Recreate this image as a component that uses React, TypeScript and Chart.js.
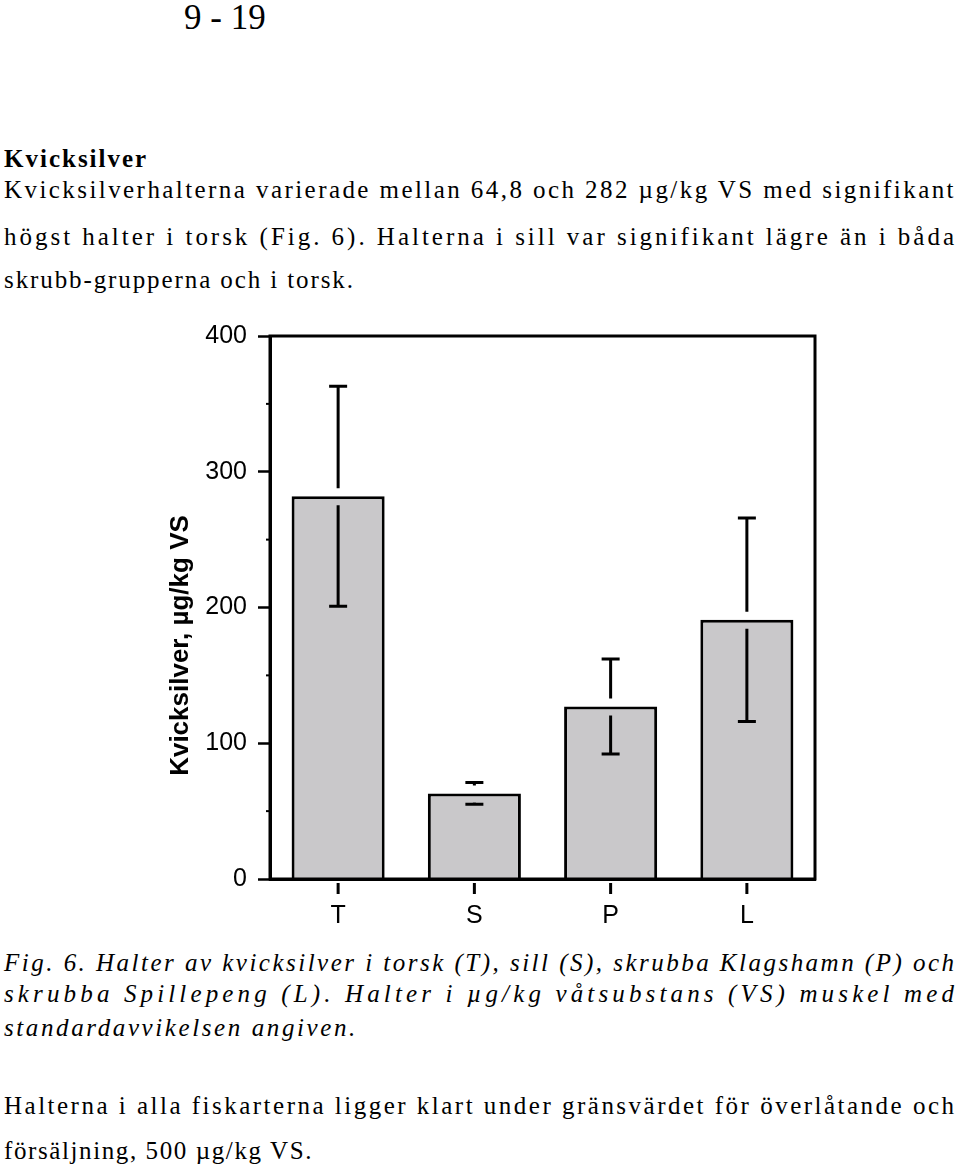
import React, { useEffect, useRef } from "react";
import { Chart, registerables } from "chart.js";

Chart.register(...registerables);

// ---- data ----
const categories = ["T", "S", "P", "L"];
const meanValues = [282, 63, 127, 191];
const sdValues = [81, 8, 35, 75];
const yTickValues = [0, 100, 200, 300, 400];
const yMinorTickValues = [50, 150, 250, 350];
const yAxisTitle = "Kvicksilver, µg/kg VS";

const pageNumber = "9 - 19";
const heading = "Kvicksilver";
const para1Lines = [
  "Kvicksilverhalterna varierade mellan 64,8 och 282 µg/kg VS med signifikant",
  "högst halter i torsk (Fig. 6). Halterna i sill var signifikant lägre än i båda",
  "skrubb-grupperna och i torsk.",
];
const captionLines = [
  "Fig. 6. Halter av kvicksilver i torsk (T), sill (S), skrubba Klagshamn (P) och",
  "skrubba Spillepeng (L). Halter i µg/kg våtsubstans (VS) muskel med",
  "standardavvikelsen angiven.",
];
const para2Lines = [
  "Halterna i alla fiskarterna ligger klart under gränsvärdet för överlåtande och",
  "försäljning, 500 µg/kg VS.",
];

const SANS = "'Liberation Sans', Arial, Helvetica, sans-serif";
const SERIF = "'Liberation Serif', 'Times New Roman', Times, serif";
const FULL_WIDTH = 950;

let measureCtx: CanvasRenderingContext2D | null = null;
function naturalWidth(text: string, font: string): number {
  if (!measureCtx) measureCtx = document.createElement("canvas").getContext("2d");
  if (!measureCtx) return text.length * 11;
  measureCtx.font = font;
  return measureCtx.measureText(text).width;
}

const decorPlugin = {
  id: "decor",
  afterDraw(chart: any) {
    const { ctx, chartArea, scales } = chart;
    const xs = scales.x;
    const ys = scales.y;
    ctx.save();
    ctx.strokeStyle = "#000";
    ctx.fillStyle = "#000";
    ctx.lineCap = "butt";

    // error bars (with a small gap where they cross the bar top)
    ctx.lineWidth = 3;
    meanValues.forEach((m, i) => {
      const cx = xs.getPixelForValue(i);
      const top = ys.getPixelForValue(m + sdValues[i]);
      const bot = ys.getPixelForValue(m - sdValues[i]);
      const barTop = ys.getPixelForValue(m);
      const upEnd = Math.max(top, barTop - 8);
      const lowStart = Math.min(bot, barTop + 9);
      ctx.beginPath();
      ctx.moveTo(cx, top);
      ctx.lineTo(cx, upEnd);
      ctx.moveTo(cx, lowStart);
      ctx.lineTo(cx, bot);
      ctx.moveTo(cx - 9, top);
      ctx.lineTo(cx + 9, top);
      ctx.moveTo(cx - 9, bot);
      ctx.lineTo(cx + 9, bot);
      ctx.stroke();
    });

    // frame
    ctx.lineWidth = 3;
    ctx.strokeRect(
      chartArea.left,
      chartArea.top,
      chartArea.right - chartArea.left,
      chartArea.bottom - chartArea.top
    );

    // x tick marks (detached from axis)
    ctx.lineWidth = 3;
    categories.forEach((_, i) => {
      const cx = xs.getPixelForValue(i);
      ctx.beginPath();
      ctx.moveTo(cx, chartArea.bottom + 4);
      ctx.lineTo(cx, chartArea.bottom + 15);
      ctx.stroke();
    });

    // minor y ticks
    ctx.lineWidth = 2;
    yMinorTickValues.forEach((v) => {
      const py = ys.getPixelForValue(v);
      ctx.beginPath();
      ctx.moveTo(chartArea.left - 4, py);
      ctx.lineTo(chartArea.left, py);
      ctx.stroke();
    });

    // y axis title
    ctx.translate(chartArea.left - 89, (chartArea.top + chartArea.bottom) / 2 + 38);
    ctx.rotate(-Math.PI / 2);
    ctx.font = "bold 26px " + SANS;
    ctx.textAlign = "center";
    ctx.textBaseline = "middle";
    ctx.fillText(yAxisTitle, 0, 0);
    ctx.restore();
  },
};

function BarChart() {
  const ref = useRef<HTMLCanvasElement | null>(null);
  useEffect(() => {
    if (!ref.current) return;
    const chart = new Chart(ref.current, {
      type: "bar",
      data: {
        labels: categories,
        datasets: [
          {
            data: meanValues,
            backgroundColor: "#c9c8ca",
            borderColor: "#000",
            borderWidth: 3,
            borderSkipped: "start",
            barPercentage: 0.683,
            categoryPercentage: 1,
          },
        ],
      },
      options: {
        animation: false,
        responsive: true,
        maintainAspectRatio: false,
        layout: { padding: { top: 26, right: 15, bottom: 0, left: 0 } },
        plugins: {
          legend: { display: false },
          tooltip: { enabled: false },
          title: { display: false },
        },
        scales: {
          x: {
            type: "category",
            grid: {
              display: true,
              drawOnChartArea: false,
              drawTicks: true,
              tickLength: 12,
              color: "rgba(0,0,0,0)",
            },
            border: { display: true, color: "#000", width: 3 },
            ticks: {
              color: "#000",
              padding: 10,
              font: { family: SANS, size: 25 },
            },
            afterFit: (scale: any) => {
              scale.height = 61;
            },
          },
          y: {
            type: "linear",
            min: 0,
            max: 400,
            afterBuildTicks: (scale: any) => {
              scale.ticks = yTickValues.map((v) => ({ value: v }));
            },
            grid: {
              display: true,
              drawOnChartArea: false,
              drawTicks: true,
              tickLength: 12,
              tickWidth: 2.5,
              tickColor: "#000",
            },
            border: { display: true, color: "#000", width: 3 },
            ticks: {
              color: "#000",
              padding: 11,
              font: { family: SANS, size: 25 },
              callback: (v: any) => String(v),
            },
            afterFit: (scale: any) => {
              scale.width = 140;
            },
          },
        },
      },
      plugins: [decorPlugin],
    });
    return () => chart.destroy();
  }, []);
  return (
    <div style={{ position: "absolute", left: 130, top: 310, width: 700, height: 630 }}>
      <canvas ref={ref} />
    </div>
  );
}

function Line({
  text,
  top,
  justify,
  italic,
  bold,
  spacing,
}: {
  text: string;
  top: number;
  justify?: boolean;
  italic?: boolean;
  bold?: boolean;
  spacing: number;
}) {
  const font =
    (italic ? "italic " : "") + (bold ? "bold " : "") + "25px " + SERIF;
  let ls = spacing;
  if (justify) {
    const w = naturalWidth(text, font);
    ls = (FULL_WIDTH - w) / Math.max(1, text.length - 1);
    if (ls < 0) ls = 0;
  }
  return (
    <div
      style={{
        position: "absolute",
        left: 4,
        top,
        fontFamily: SERIF,
        fontSize: 25,
        lineHeight: "25px",
        color: "#000",
        whiteSpace: "nowrap",
        fontStyle: italic ? "italic" : "normal",
        fontWeight: bold ? "bold" : "normal",
        letterSpacing: ls,
      }}
    >
      {text}
    </div>
  );
}

export default function App() {
  const para1Tops = [177, 224, 267];
  const captionTops = [950, 981, 1015];
  const para2Tops = [1093, 1138];
  return (
    <div
      style={{
        position: "absolute",
        left: 0,
        top: 0,
        width: 960,
        height: 1168,
        background: "#fff",
        overflow: "hidden",
      }}
    >
      <div
        style={{
          position: "absolute",
          left: 184,
          top: 0,
          fontFamily: SERIF,
          fontSize: 35,
          lineHeight: "35px",
          whiteSpace: "nowrap",
        }}
      >
        {pageNumber}
      </div>
      <Line text={heading} top={146} bold spacing={2} />
      {para1Lines.map((t, i) => (
        <Line key={"p1" + i} text={t} top={para1Tops[i]} justify={i < para1Lines.length - 1} spacing={1.9} />
      ))}
      <BarChart />
      {captionLines.map((t, i) => (
        <Line key={"c" + i} text={t} top={captionTops[i]} italic justify={i < captionLines.length - 1} spacing={2.6} />
      ))}
      {para2Lines.map((t, i) => (
        <Line key={"p2" + i} text={t} top={para2Tops[i]} justify={i < para2Lines.length - 1} spacing={1.6} />
      ))}
    </div>
  );
}
